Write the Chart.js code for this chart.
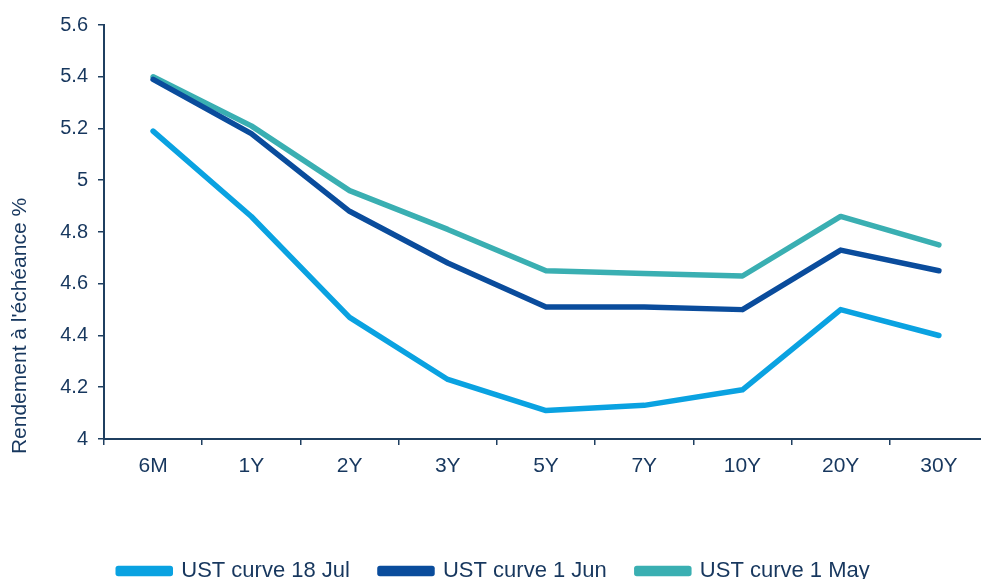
<!DOCTYPE html>
<html>
<head>
<meta charset="utf-8">
<script src="https://cdn.jsdelivr.net/npm/chart.js@4"></script>
<style>
  html, body { margin: 0; padding: 0; background: #fff; overflow: hidden; }
  #wrap { width: 990px; height: 579px; }
</style>
</head>
<body>
<div id="wrap"><canvas id="curveChart" width="990" height="579"></canvas></div>
<script>
const maturities = ["6M", "1Y", "2Y", "3Y", "5Y", "7Y", "10Y", "20Y", "30Y"];
const curve18Jul = [5.19, 4.86, 4.47, 4.23, 4.11, 4.13, 4.19, 4.50, 4.40];
const curve1Jun = [5.39, 5.18, 4.88, 4.68, 4.51, 4.51, 4.50, 4.73, 4.65];
const curve1May = [5.40, 5.21, 4.96, 4.81, 4.65, 4.64, 4.63, 4.86, 4.75];
const yTitle = "Rendement à l'échéance %";

const textColor = "#17375E";
const axisColor = "#1F3F60";
const fontFamily = "'Liberation Sans', Arial, sans-serif";

// axis title drawn by hand so it can sit a bit lower than the plot centre
const yTitlePlugin = {
  id: "yTitle",
  afterDraw(chart) {
    const ctx = chart.ctx;
    ctx.save();
    ctx.translate(20, 326);
    ctx.rotate(-Math.PI / 2);
    ctx.font = "21px " + fontFamily;
    ctx.fillStyle = textColor;
    ctx.textAlign = "center";
    ctx.textBaseline = "middle";
    ctx.fillText(yTitle, 0, 0);
    ctx.restore();
  }
};

function line(label, data, color) {
  return {
    label,
    data,
    borderColor: color,
    backgroundColor: color,
    borderWidth: 5.5,
    pointRadius: 0,
    tension: 0,
    borderCapStyle: "round",
    borderJoinStyle: "round"
  };
}

new Chart(document.getElementById("curveChart"), {
  type: "line",
  data: {
    labels: maturities,
    datasets: [
      line("UST curve 18 Jul", curve18Jul, "#0AA2E1"),
      line("UST curve 1 Jun", curve1Jun, "#0A4C9C"),
      line("UST curve 1 May", curve1May, "#3AAFB2")
    ]
  },
  options: {
    responsive: false,
    animation: false,
    layout: { padding: { top: 25, right: 2, left: 0, bottom: -13 } },
    plugins: {
      tooltip: { enabled: false },
      legend: {
        position: "bottom",
        labels: {
          boxWidth: 52,
          boxHeight: 5,
          padding: 30,
          color: textColor,
          font: { family: fontFamily, size: 22 }
        }
      }
    },
    scales: {
      x: {
        offset: true,
        grid: { offset: true, drawOnChartArea: false, color: axisColor, tickLength: 6, lineWidth: 1.5 },
        border: { color: axisColor, width: 2 },
        ticks: { color: textColor, padding: 9, font: { family: fontFamily, size: 21 } },
        afterFit(scale) { scale.height = 91; }
      },
      y: {
        min: 4,
        max: 5.6,
        grid: { drawOnChartArea: false, color: axisColor, tickLength: 6, lineWidth: 1.5 },
        border: { color: axisColor, width: 2 },
        ticks: {
          stepSize: 0.2,
          color: textColor,
          padding: 10,
          font: { family: fontFamily, size: 20 },
          callback: v => String(Math.round(v * 10) / 10)
        },
        afterFit(scale) { scale.width = 104; }
      }
    }
  },
  plugins: [yTitlePlugin]
});
</script>
</body>
</html>
